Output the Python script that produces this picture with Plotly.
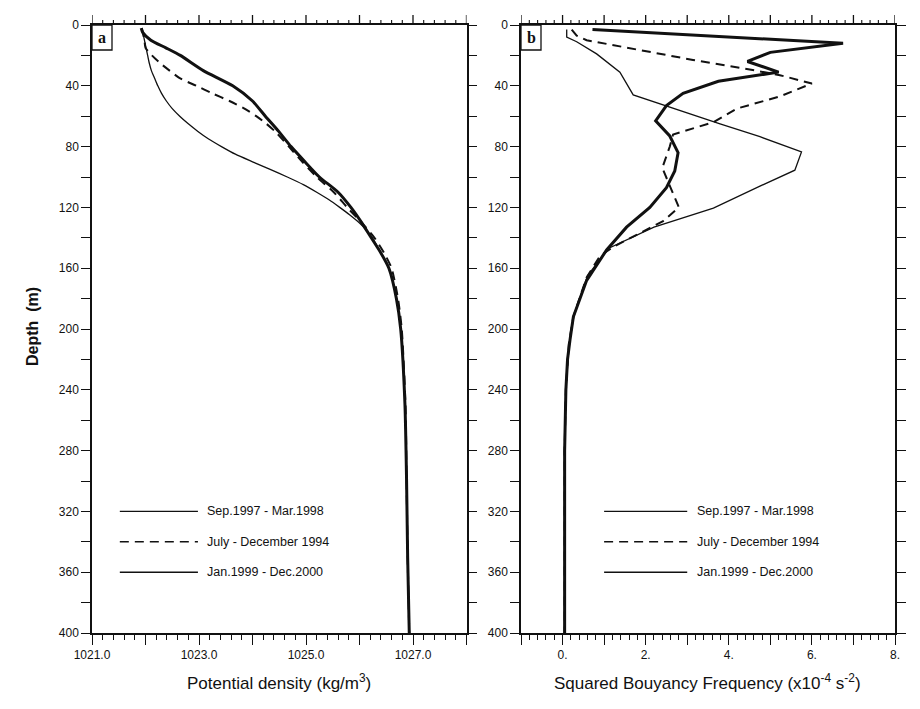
import plotly.graph_objects as go

# ---------------- data ----------------
series_names = ["Sep.1997 - Mar.1998", "July - December 1994", "Jan.1999 - Dec.2000"]

# Panel a : potential density (kg/m3) vs depth (m)
dens_sep97_depth = [2, 5, 10, 15, 20, 30, 40, 50, 60, 70, 80, 90, 100, 110, 120, 130, 140, 150, 160, 180, 200, 250, 300, 350, 400]
dens_sep97_val = [1021.92, 1021.95, 1022.10, 1022.38, 1022.65, 1023.08, 1023.63, 1024.00, 1024.24, 1024.49,
                  1024.72, 1024.98, 1025.25, 1025.60, 1025.84, 1026.04, 1026.22, 1026.40, 1026.55, 1026.69,
                  1026.77, 1026.85, 1026.88, 1026.90, 1026.93]

dens_jul94_depth = [2, 5, 10, 15, 20, 25, 30, 35, 40, 45, 50, 55, 60, 65, 70, 80, 90, 100, 110, 120, 130, 140, 150, 160, 180, 200, 250, 300, 350, 400]
dens_jul94_val = [1021.93, 1021.95, 1021.98, 1022.00, 1022.12, 1022.27, 1022.45, 1022.64, 1022.95, 1023.25,
                  1023.57, 1023.85, 1024.07, 1024.26, 1024.42, 1024.68, 1024.93, 1025.20, 1025.52, 1025.77,
                  1026.04, 1026.28, 1026.46, 1026.60, 1026.72, 1026.79, 1026.86, 1026.88, 1026.90, 1026.93]

dens_jan99_depth = [2, 5, 10, 15, 20, 25, 30, 35, 40, 45, 50, 55, 60, 65, 70, 75, 80, 85, 90, 95, 100, 105, 110, 115, 120, 125, 130, 135, 140, 150, 160, 180, 200, 250, 300, 350, 400]
dens_jan99_val = [1021.93, 1021.95, 1021.98, 1022.01, 1022.04, 1022.07, 1022.11, 1022.17, 1022.23, 1022.30,
                  1022.39, 1022.50, 1022.64, 1022.80, 1022.98, 1023.18, 1023.42, 1023.68, 1024.00, 1024.33,
                  1024.65, 1024.95, 1025.20, 1025.43, 1025.63, 1025.82, 1025.99, 1026.13, 1026.24, 1026.40,
                  1026.55, 1026.69, 1026.77, 1026.85, 1026.88, 1026.90, 1026.93]

# Panel b : squared buoyancy frequency (x1e-4 s^-2) vs depth (m)
n2_sep97_depth = [3, 12, 18, 24, 31, 37, 45, 53, 63, 73, 84, 96, 107, 120, 133, 148, 168, 192, 207, 220, 240, 280, 400]
n2_sep97_val = [0.72, 6.75, 5.00, 4.45, 5.20, 3.75, 2.90, 2.50, 2.24, 2.58, 2.78, 2.70, 2.50, 2.10, 1.54, 1.06,
                0.58, 0.26, 0.18, 0.12, 0.08, 0.05, 0.05]

n2_jul94_depth = [3, 7, 10, 15, 23, 28.5, 33, 38.5, 47, 55, 64, 72, 80, 94, 111, 120, 129, 137, 146, 152, 166, 179, 192, 210, 240, 280, 400]
n2_jul94_val = [0.22, 0.34, 0.58, 1.54, 3.14, 4.35, 5.23, 6.00, 5.23, 4.19, 3.63, 2.66, 2.58, 2.40, 2.66, 2.80,
                2.42, 1.86, 1.22, 0.90, 0.58, 0.42, 0.26, 0.15, 0.08, 0.05, 0.05]

n2_jan99_depth = [3, 8, 11, 19, 31, 46, 65, 73.5, 83.5, 95.5, 106, 120.5, 133, 147, 165, 190, 210, 240, 280, 400]
n2_jan99_val = [0.10, 0.10, 0.34, 0.82, 1.38, 1.70, 3.79, 4.75, 5.75, 5.59, 4.75, 3.63, 2.20, 1.10, 0.60, 0.28,
                0.16, 0.08, 0.05, 0.05]

# legend sample positions (data units)
legend_depths = [320, 340, 360]
legend_a_x = [1021.52, 1022.98]
legend_a_text_x = 1023.11
legend_b_x = [1.0, 3.0]
legend_b_text_x = 3.18

x_a_ticks = [1021, 1022, 1023, 1024, 1025, 1026, 1027, 1028]
x_a_labels = ["1021.0", "", "1023.0", "", "1025.0", "", "1027.0", ""]
x_b_ticks = [-1, 0, 1, 2, 3, 4, 5, 6, 7, 8]
x_b_labels = ["", "0.", "", "2.", "", "4.", "", "6.", "", "8."]
y_ticks = list(range(0, 401, 20))
y_labels = [str(v) if v % 40 == 0 else "" for v in y_ticks]

# ---------------- figure ----------------
BLACK = "#111111"
FONT = "Liberation Sans, Arial, sans-serif"
TICKFONT = dict(family=FONT, size=12, color=BLACK)
styles = [dict(width=3.0, dash="solid"), dict(width=2.0, dash="9px,6px"), dict(width=1.3, dash="solid")]

fig = go.Figure()

panel_a = [(dens_sep97_val, dens_sep97_depth), (dens_jul94_val, dens_jul94_depth), (dens_jan99_val, dens_jan99_depth)]
panel_b = [(n2_sep97_val, n2_sep97_depth), (n2_jul94_val, n2_jul94_depth), (n2_jan99_val, n2_jan99_depth)]

for (xv, yv), st, nm in zip(panel_a, styles, series_names):
    fig.add_trace(go.Scatter(x=xv, y=yv, mode="lines", name=nm, showlegend=False,
                             line=dict(color=BLACK, width=st["width"], dash=st["dash"], shape="spline", smoothing=0.6),
                             xaxis="x", yaxis="y"))
for (xv, yv), st, nm in zip(panel_b, styles, series_names):
    fig.add_trace(go.Scatter(x=xv, y=yv, mode="lines", name=nm, showlegend=False,
                             line=dict(color=BLACK, width=st["width"], dash=st["dash"]),
                             xaxis="x2", yaxis="y2"))

# legend samples drawn inside each panel
leg_dash = ["solid", "9px,6px", "solid"]
for d, dash, nm in zip(legend_depths, leg_dash, series_names):
    fig.add_trace(go.Scatter(x=legend_a_x, y=[d, d], mode="lines", showlegend=False, hoverinfo="skip",
                             line=dict(color=BLACK, width=1.4, dash=dash), xaxis="x", yaxis="y"))
    fig.add_trace(go.Scatter(x=legend_b_x, y=[d, d], mode="lines", showlegend=False, hoverinfo="skip",
                             line=dict(color=BLACK, width=1.4, dash=dash), xaxis="x2", yaxis="y2"))
    fig.add_annotation(x=legend_a_text_x, y=d, xref="x", yref="y", text=nm, showarrow=False,
                       xanchor="left", yanchor="middle", font=dict(family=FONT, size=12.5, color=BLACK))
    fig.add_annotation(x=legend_b_text_x, y=d, xref="x2", yref="y2", text=nm, showarrow=False,
                       xanchor="left", yanchor="middle", font=dict(family=FONT, size=12.5, color=BLACK))

W, H = 920, 709
ya_dom = [1 - 633 / H, 1 - 25 / H]
xa_dom = [92 / W, 466.5 / W]
xb_dom = [521 / W, 895 / W]

common_x = dict(showgrid=False, zeroline=False, showline=True, linecolor=BLACK, linewidth=1.5,
                ticks="outside", ticklen=10, tickwidth=1.3, tickcolor=BLACK, mirror=True,
                tickfont=TICKFONT, automargin=False)
common_y = dict(showgrid=False, zeroline=False, showline=True, linecolor=BLACK, linewidth=1.5,
                ticks="outside", ticklen=9, tickwidth=1.3, tickcolor=BLACK, mirror="allticks",
                tickfont=TICKFONT, range=[400, 0], tickmode="array", tickvals=y_ticks, ticktext=y_labels,
                domain=ya_dom, automargin=False)

fig.update_layout(
    width=W, height=H, margin=dict(l=0, r=0, t=0, b=0, autoexpand=False),
    paper_bgcolor="white", plot_bgcolor="white",
    xaxis=dict(common_x, domain=xa_dom, range=[1021, 1028], tickmode="array", tickvals=x_a_ticks,
               ticktext=x_a_labels, anchor="y",
               minor=dict(dtick=0.2, tick0=1021, ticks="outside", ticklen=5, tickwidth=1.1, tickcolor=BLACK)),
    yaxis=dict(common_y, anchor="x"),
    xaxis2=dict(common_x, domain=xb_dom, range=[-1, 8], tickmode="array", tickvals=x_b_ticks,
                ticktext=x_b_labels, anchor="y2",
                minor=dict(dtick=0.2, tick0=-1, ticks="outside", ticklen=5, tickwidth=1.1, tickcolor=BLACK)),
    yaxis2=dict(common_y, anchor="x2"),
)

# top-edge tick marks (major every 1 unit, minor every 0.2), derived from the tick arrays
top_y = 1 - 25 / H
for xref, ticks in [("x", x_a_ticks), ("x2", x_b_ticks)]:
    for i, t in enumerate(ticks):
        fig.add_shape(type="line", xref=xref, yref="paper", x0=t, x1=t, y0=top_y, y1=top_y + 10 / H,
                      line=dict(color=BLACK, width=1.3), layer="above")
        if i < len(ticks) - 1:
            for k in range(1, 5):
                mx = t + k * (ticks[i + 1] - t) / 5
                fig.add_shape(type="line", xref=xref, yref="paper", x0=mx, x1=mx, y0=top_y, y1=top_y + 5 / H,
                              line=dict(color=BLACK, width=1.1), layer="above")

# axis titles
fig.add_annotation(x=(92 + 466.5) / 2 / W, y=1 - 682 / H, xref="paper", yref="paper", showarrow=False,
                   text="Potential density (kg/m<sup>3</sup>)",
                   font=dict(family=FONT, size=17, color=BLACK), xanchor="center", yanchor="middle")
fig.add_annotation(x=707 / W, y=1 - 682 / H, xref="paper", yref="paper", showarrow=False,
                   text="Squared Bouyancy Frequency (x10<sup>-4</sup> s<sup>-2</sup>)",
                   font=dict(family=FONT, size=17, color=BLACK), xanchor="center", yanchor="middle")
fig.add_annotation(x=33 / W, y=1 - 327 / H, xref="paper", yref="paper", showarrow=False, textangle=-90,
                   text="<b>Depth  (m)</b>",
                   font=dict(family=FONT, size=16, color=BLACK), xanchor="center", yanchor="middle")

# panel labels in boxes
for x0, lab in [(92, "a"), (521, "b")]:
    fig.add_shape(type="rect", xref="paper", yref="paper", x0=x0 / W, x1=(x0 + 20) / W,
                  y0=1 - 50 / H, y1=1 - 25 / H, line=dict(color=BLACK, width=1.3))
    fig.add_annotation(x=(x0 + 10) / W, y=1 - 37 / H, xref="paper", yref="paper", showarrow=False,
                       text="<b>" + lab + "</b>", font=dict(family="Liberation Serif, serif", size=16, color=BLACK),
                       xanchor="center", yanchor="middle")

fig.write_html("out.html")
